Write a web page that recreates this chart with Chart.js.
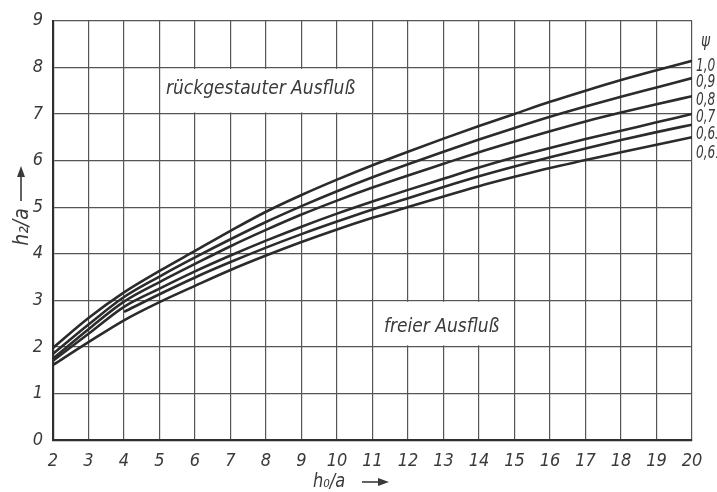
<!DOCTYPE html>
<html>
<head>
<meta charset="utf-8">
<script src="https://cdn.jsdelivr.net/npm/chart.js@4"></script>
<style>
  html, body { margin: 0; padding: 0; background: #fff; }
  #wrap { width: 717px; height: 492px; position: relative; }
</style>
</head>
<body>
<div id="wrap"><canvas id="c" width="717" height="492"></canvas></div>
<script>
// ---- data ----
const xValues = [2, 3, 4, 5, 6, 7, 8, 9, 10, 11, 12, 13, 14, 15, 16, 17, 18, 19, 20];
const psiLabels = ["1,0", "0,9", "0,8", "0,7", "0,63", "0,61"];
const psi10 = [1.98, 2.62, 3.17, 3.63, 4.06, 4.49, 4.90, 5.26, 5.59, 5.90, 6.19, 6.47, 6.74, 7.00, 7.26, 7.50, 7.73, 7.94, 8.14];
const psi09 = [1.85, 2.48, 3.07, 3.51, 3.92, 4.31, 4.68, 5.02, 5.34, 5.64, 5.92, 6.19, 6.45, 6.70, 6.94, 7.16, 7.37, 7.57, 7.77];
const psi08 = [1.75, 2.38, 2.97, 3.39, 3.78, 4.16, 4.51, 4.84, 5.14, 5.42, 5.68, 5.93, 6.18, 6.41, 6.63, 6.84, 7.03, 7.21, 7.38];
const psi07 = [1.70, 2.28, 2.86, 3.25, 3.62, 3.96, 4.28, 4.58, 4.86, 5.12, 5.37, 5.61, 5.85, 6.07, 6.27, 6.46, 6.64, 6.82, 7.00];
const psi063 = [null, null, 2.75, 3.13, 3.49, 3.82, 4.13, 4.42, 4.69, 4.95, 5.19, 5.43, 5.66, 5.87, 6.07, 6.26, 6.44, 6.61, 6.77];
const psi061 = [1.61, 2.10, 2.57, 2.96, 3.31, 3.65, 3.96, 4.25, 4.52, 4.77, 5.00, 5.23, 5.45, 5.65, 5.84, 6.01, 6.18, 6.34, 6.50];
const xTicks = [2, 3, 4, 5, 6, 7, 8, 9, 10, 11, 12, 13, 14, 15, 16, 17, 18, 19, 20];
const yTicks = [0, 1, 2, 3, 4, 5, 6, 7, 8, 9];
const seriesList = [psi10, psi09, psi08, psi07, psi063, psi061];

const FONT = "'DejaVu Sans Condensed', 'DejaVu Sans', sans-serif";
const INK = '#3a3a3a';

const datasets = seriesList.map((s, i) => ({
  label: 'ψ = ' + psiLabels[i],
  data: xValues.map((x, k) => ({ x: x, y: s[k] })),
  borderColor: '#2b2b2b',
  borderWidth: 2.6,
  pointRadius: 0,
  fill: false,
  spanGaps: false,
  cubicInterpolationMode: 'monotone'
}));

function arrow(ctx, x0, y0, x1, y1) {
  const ang = Math.atan2(y1 - y0, x1 - x0);
  ctx.beginPath();
  ctx.moveTo(x0, y0);
  ctx.lineTo(x1 - 8 * Math.cos(ang), y1 - 8 * Math.sin(ang));
  ctx.lineWidth = 1.6;
  ctx.strokeStyle = INK;
  ctx.stroke();
  ctx.beginPath();
  ctx.moveTo(x1, y1);
  ctx.lineTo(x1 - 11 * Math.cos(ang) + 4 * Math.sin(ang), y1 - 11 * Math.sin(ang) - 4 * Math.cos(ang));
  ctx.lineTo(x1 - 11 * Math.cos(ang) - 4 * Math.sin(ang), y1 - 11 * Math.sin(ang) + 4 * Math.cos(ang));
  ctx.closePath();
  ctx.fillStyle = INK;
  ctx.fill();
}

function narrowText(ctx, text, x, y, sx) {
  ctx.save();
  ctx.translate(x, y);
  ctx.scale(sx, 1);
  ctx.fillText(text, 0, 0);
  ctx.restore();
}

const overlay = {
  id: 'overlay',
  beforeDatasetsDraw(chart) {
    const { ctx, scales: { x, y } } = chart;
    ctx.save();
    function box(x0, x1, y0, y1) {
      const l = x.getPixelForValue(x0) + 1.5, r = x.getPixelForValue(x1) - 1.5;
      const t = y.getPixelForValue(y1) + 1.5, b = y.getPixelForValue(y0) - 1.5;
      ctx.fillStyle = '#fff';
      ctx.fillRect(l, t, r - l, b - t);
    }
    box(5, 11, 7, 8);
    box(11, 15, 2, 3);
    ctx.fillStyle = INK;
    ctx.font = 'italic 19px ' + FONT;
    ctx.textBaseline = 'middle';
    ctx.textAlign = 'left';
    narrowText(ctx, 'rückgestauter Ausfluß', 166, 89, 1.0);
    narrowText(ctx, 'freier Ausfluß', 384, 327, 1.0);
    ctx.restore();
  },
  afterDraw(chart) {
    const { ctx } = chart;
    ctx.save();
    ctx.fillStyle = INK;
    ctx.textBaseline = 'middle';
    ctx.textAlign = 'left';
    ctx.font = 'italic 18px ' + FONT;
    narrowText(ctx, 'ψ', 701, 41, 0.85);
    const ys = [66, 82, 100, 117, 134, 153];
    psiLabels.forEach((t, i) => narrowText(ctx, t, 696, ys[i], 0.75));
    // x axis title
    ctx.font = 'italic 20px ' + FONT;
    narrowText(ctx, 'h₀/a', 313, 482, 0.9);
    arrow(ctx, 362, 482, 389, 482);
    // y axis title (rotated)
    ctx.save();
    ctx.translate(23, 227);
    ctx.rotate(-Math.PI / 2);
    ctx.textAlign = 'center';
    ctx.font = 'italic 21px ' + FONT;
    ctx.fillText('h₂/a', 0, 0);
    ctx.restore();
    arrow(ctx, 21, 201, 21, 166);
    ctx.restore();
  }
};

new Chart(document.getElementById('c'), {
  type: 'line',
  data: { datasets },
  plugins: [overlay],
  options: {
    responsive: false,
    animation: false,
    devicePixelRatio: 1,
    layout: { padding: { top: 19, right: 25, left: 0, bottom: 0 } },
    plugins: { legend: { display: false }, tooltip: { enabled: false }, title: { display: false } },
    scales: {
      x: {
        type: 'linear',
        min: 2, max: 20,
        afterBuildTicks(s) { s.ticks = xTicks.map(v => ({ value: v })); },
        afterFit(s) { s.height = 52; },
        grid: { color: '#555', lineWidth: 1.2, drawTicks: false },
        border: { display: true, color: '#2f2f2f', width: 2.2 },
        ticks: { color: INK, padding: 11, font: { family: FONT, size: 18, style: 'italic' }, maxRotation: 0, autoSkip: false }
      },
      y: {
        type: 'linear',
        min: 0, max: 9,
        afterBuildTicks(s) { s.ticks = yTicks.map(v => ({ value: v })); },
        afterFit(s) { s.width = 53; },
        grid: { color: '#555', lineWidth: 1.2, drawTicks: false },
        border: { display: true, color: '#2f2f2f', width: 2.2 },
        ticks: { color: INK, padding: 10, font: { family: FONT, size: 18, style: 'italic' } }
      }
    }
  }
});
</script>
</body>
</html>
